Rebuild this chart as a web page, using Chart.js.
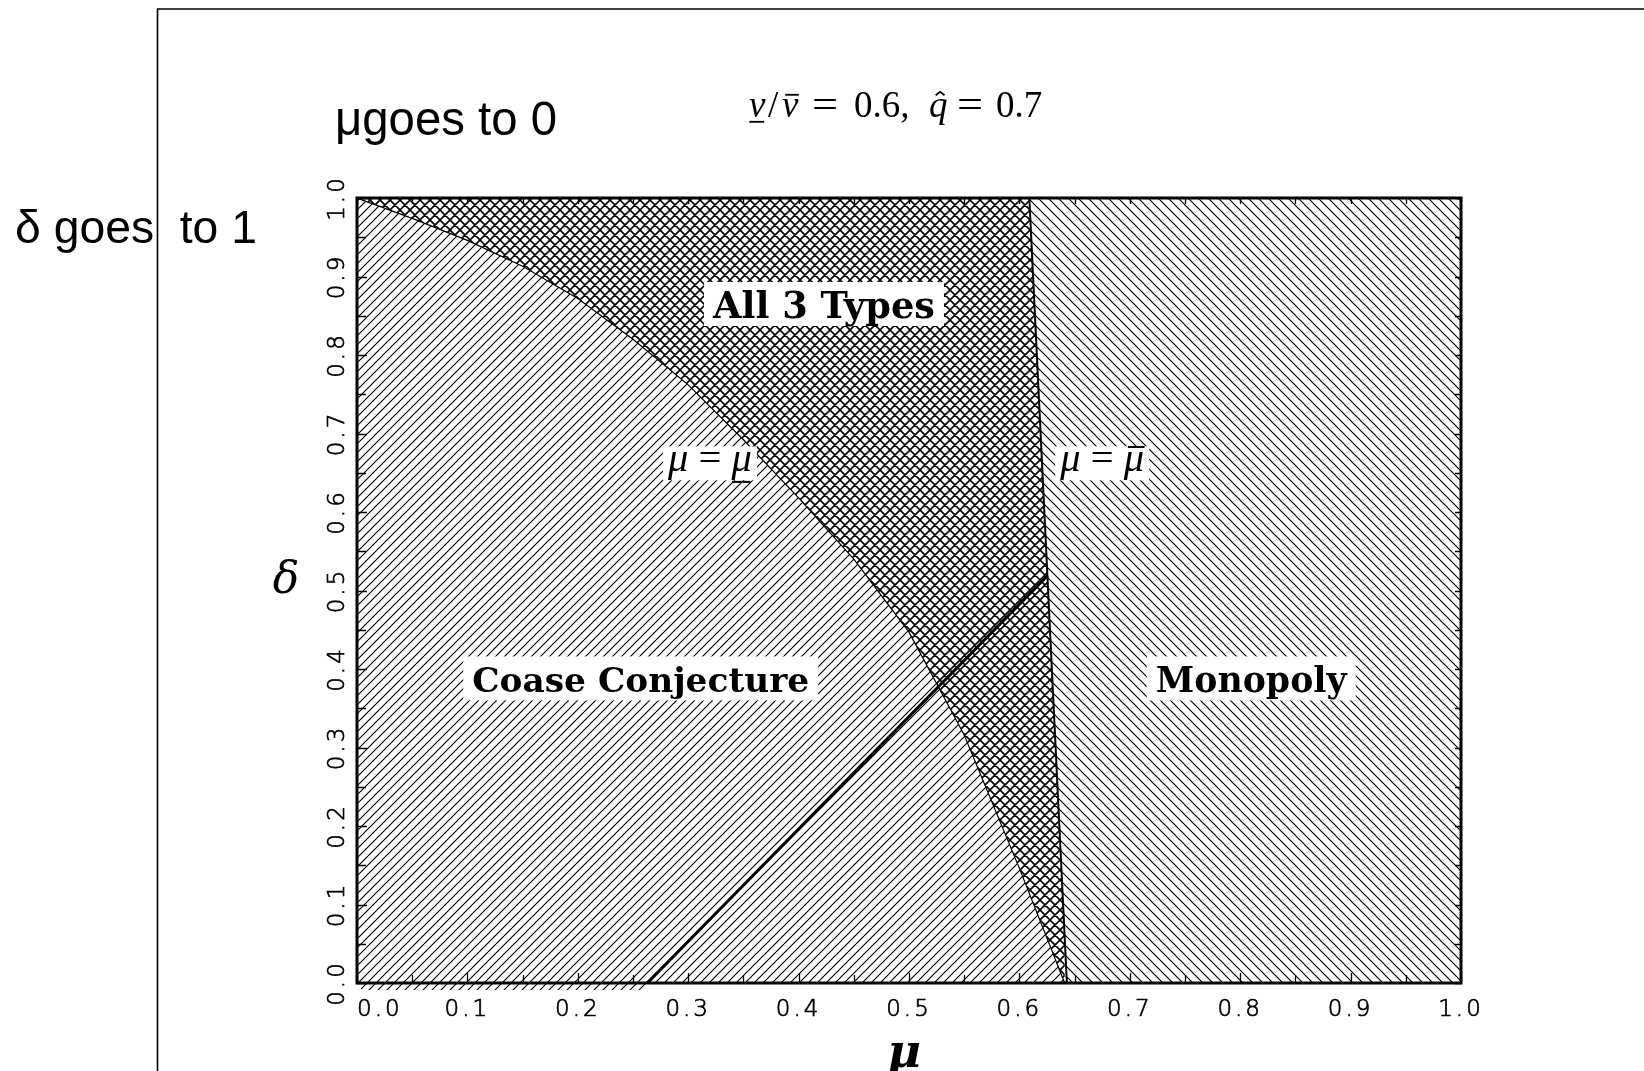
<!DOCTYPE html>
<html><head><meta charset="utf-8">
<script src="https://cdn.jsdelivr.net/npm/chart.js@4.4.0/dist/chart.umd.min.js"></script>
<style>html,body{margin:0;padding:0;background:#fff;overflow:hidden}canvas{display:block}</style>
</head><body>
<canvas id="c" width="1644" height="1071"></canvas>
<script>
// ---------------- data ----------------
const X_TICK_LABELS = ['0.0','0.1','0.2','0.3','0.4','0.5','0.6','0.7','0.8','0.9','1.0'];
const Y_TICK_LABELS = ['0.0','0.1','0.2','0.3','0.4','0.5','0.6','0.7','0.8','0.9','1.0'];
// boundary mu = mu_lower (Coase | All 3 Types)
const lowerBoundMu    = [0, 0.05, 0.10, 0.15, 0.20, 0.25, 0.30, 0.35, 0.40, 0.45, 0.50, 0.55, 0.60, 0.641];
const lowerBoundDelta = [1, 0.974, 0.946, 0.913, 0.872, 0.820, 0.762, 0.692, 0.618, 0.540, 0.447, 0.316, 0.146, 0];
// boundary mu = mu_bar (All 3 Types | Monopoly)
const upperBoundMu    = [0.609, 0.643];
const upperBoundDelta = [1, 0];
// solid diagonal line
const diagMu    = [0.263, 0.6255];
const diagDelta = [0, 0.519];
const REGION_NAMES = ['All 3 Types', 'Coase Conjecture', 'Monopoly'];
const REGION_AT = [[0.423, 0.865], [0.257, 0.388], [0.810, 0.388]];
const BOUND_AT = [[0.3197, 0.662], [0.675, 0.662]];

// ---------------- styles ----------------
const SERIF = '"DejaVu Serif", "Liberation Serif", serif';
const LSERIF = '"Liberation Serif", "Times New Roman", serif';
const SANS = '"Liberation Sans", Arial, sans-serif';
const TICKF = '"DejaVu Sans", sans-serif';
const PAD0 = '\u2007\u2008\u2007';

function makePattern(dirs, size, lw) {
  const c = document.createElement('canvas');
  c.width = size; c.height = size;
  const g = c.getContext('2d');
  g.fillStyle = '#fff'; g.fillRect(0, 0, size, size);
  g.strokeStyle = '#000'; g.lineWidth = lw;
  g.beginPath();
  for (const k of [-size, 0, size]) {
    if (dirs.includes('/')) { g.moveTo(k - 1, size + 1); g.lineTo(k + size + 1, -1); }
    if (dirs.includes('\\')) { g.moveTo(k - 1, -1); g.lineTo(k + size + 1, size + 1); }
  }
  g.stroke();
  return g.createPattern(c, 'repeat');
}
const cv = document.getElementById('c');
const ctx0 = cv.getContext('2d');
const coasePat = makePattern('/', 9, 1.15);
const monoPat = makePattern('\\', 10, 1.15);
const crossPat = makePattern('/\\', 10, 1.6);

const toPts = (xs, ys) => xs.map((x, i) => ({x, y: ys[i]}));

function decorate(ctx, p, x, w, baseline, size) {
  ctx.save(); ctx.strokeStyle = '#000'; ctx.lineWidth = Math.max(1.3, size * 0.05); ctx.beginPath();
  if (p.deco === 'under') { const y = baseline + p.dy * size; ctx.moveTo(x + 0.02 * w, y); ctx.lineTo(x + 0.92 * w, y); }
  if (p.deco === 'over') { const y = baseline - p.dy * size; ctx.moveTo(x + 0.2 * w, y); ctx.lineTo(x + 1.02 * w, y); }
  if (p.deco === 'hat') { const y = baseline - p.dy * size; const mx = x + w * 0.6;
    ctx.moveTo(mx - 0.12 * size, y + 0.09 * size); ctx.lineTo(mx, y); ctx.lineTo(mx + 0.12 * size, y + 0.09 * size); }
  ctx.stroke(); ctx.restore();
}
function richWidth(ctx, parts, size) {
  let w = 0;
  for (const p of parts) { ctx.font = p.f(size); w += ctx.measureText(p.t).width; }
  return w;
}
function drawRich(ctx, parts, cx, baseline, size) {
  const total = richWidth(ctx, parts, size);
  let x = cx - total / 2;
  ctx.textAlign = 'left'; ctx.textBaseline = 'alphabetic'; ctx.fillStyle = '#000';
  for (const p of parts) {
    ctx.font = p.f(size);
    const w = ctx.measureText(p.t).width;
    ctx.fillText(p.t, x, baseline);
    if (p.deco) decorate(ctx, p, x, w, baseline, size);
    x += w;
  }
}
function fitSize(ctx, parts, target) { return 100 * target / richWidth(ctx, parts, 100); }

const bd = s => `bold ${s}px ${SERIF}`;
const lit = s => `italic ${s}px ${LSERIF}`;
const lrm = s => `${s}px ${LSERIF}`;
const sans = s => `${s}px ${SANS}`;

const decor = {
  id: 'decor',
  beforeDraw(chart) {
    const c = chart.ctx;
    c.save(); c.fillStyle = '#fff'; c.fillRect(0, 0, chart.width, chart.height); c.restore();
    c.letterSpacing = '3px';
  },
  beforeDatasetsDraw(chart) { chart.ctx.letterSpacing = '0px'; },
  afterDatasetsDraw(chart) {
    const c = chart.ctx, xs = chart.scales.x, ys = chart.scales.y;
    c.save();
    c.letterSpacing = '0px';
    REGION_NAMES.forEach((name, i) => {
      const cx = xs.getPixelForValue(REGION_AT[i][0]);
      const cy = ys.getPixelForValue(REGION_AT[i][1]);
      const parts = [{t: name, f: bd}];
      const targetW = [222, 337, 191][i];
      const size = fitSize(c, parts, targetW);
      const w = richWidth(c, parts, size);
      c.fillStyle = '#fff';
      c.fillRect(cx - w / 2 - 9, cy - 22, w + 18, 44);
      c.font = bd(size);
      const capA = c.measureText('H').actualBoundingBoxAscent;
      drawRich(c, parts, cx, cy + capA / 2 + 1, size);
    });
    const bl = [
      [{t: 'μ', f: lit}, {t: ' = ', f: lrm}, {t: 'μ', f: lit, deco: 'under', dy: 0.26}],
      [{t: 'μ', f: lit}, {t: ' = ', f: lrm}, {t: 'μ', f: lit, deco: 'over', dy: 0.6}]
    ];
    bl.forEach((parts, i) => {
      const cx = xs.getPixelForValue(BOUND_AT[i][0]);
      const cy = ys.getPixelForValue(BOUND_AT[i][1]);
      const size = fitSize(c, parts, 84);
      const w = richWidth(c, parts, size);
      c.fillStyle = '#fff';
      c.fillRect(cx - w / 2 - 5, cy - 17, w + 10, 34);
      drawRich(c, parts, cx, cy + 8, size);
    });
    c.restore();
  },
  afterDraw(chart) {
    const c = chart.ctx, a = chart.chartArea, xs = chart.scales.x, ys = chart.scales.y;
    c.save();
    c.letterSpacing = '0px';
    // hatch strip below the axis, up to the diagonal line's foot
    c.fillStyle = coasePat;
    const x0 = xs.getPixelForValue(0), x1 = xs.getPixelForValue(diagMu[0]);
    c.fillRect(x0 + 4, a.bottom + 1, x1 - x0 - 4, 6);
    // frame
    c.strokeStyle = '#000'; c.lineWidth = 3;
    c.strokeRect(a.left, a.top, a.right - a.left, a.bottom - a.top);
    // inward ticks
    c.lineWidth = 1.3;
    const tickVals = s => {
      const v = s.ticks.map(t => t.value), out = [];
      v.forEach((t, i) => { out.push([t, true]); if (i < v.length - 1) out.push([(t + v[i + 1]) / 2, false]); });
      return out;
    };
    c.beginPath();
    for (const [v, major] of tickVals(xs)) {
      const px = Math.round(xs.getPixelForValue(v)) + 0.5;
      c.moveTo(px, a.bottom); c.lineTo(px, a.bottom - (major ? 10 : 8));
      c.moveTo(px, a.top); c.lineTo(px, a.top + 6);
    }
    for (const [v, major] of tickVals(ys)) {
      const py = Math.round(ys.getPixelForValue(v)) + 0.5;
      c.moveTo(a.left, py); c.lineTo(a.left + (major ? 10 : 9), py);
      c.moveTo(a.right, py); c.lineTo(a.right - 6, py);
    }
    c.stroke();
    // axis titles
    c.fillStyle = '#000'; c.textAlign = 'center'; c.textBaseline = 'alphabetic';
    c.font = `italic 44px ${SERIF}`;
    c.fillText('δ', a.left - 71, (a.top + a.bottom) / 2 + 2);
    c.font = `bold italic 46px ${SERIF}`;
    c.fillText('μ', (a.left + a.right) / 2 - 5, a.bottom + 84);
    // heading math text, piece by piece
    const HS = 37, HB = 117;
    const head = [
      {t: 'v', f: lit, x: 749, deco: 'under', dy: 0.13},
      {t: '/', f: lrm, x: 768},
      {t: 'v', f: lit, x: 782, deco: 'over', dy: 0.6},
      {t: '=', f: lrm, x: 812, sx: 1.25},
      {t: '0.6,', f: lrm, x: 854},
      {t: 'q', f: lit, x: 929, deco: 'hat', dy: 0.68},
      {t: '=', f: lrm, x: 957, sx: 1.25},
      {t: '0.7', f: lrm, x: 996}
    ];
    c.textAlign = 'left';
    for (const p of head) {
      c.font = p.f(HS);
      const w = c.measureText(p.t).width;
      if (p.sx) { c.save(); c.translate(p.x, HB); c.scale(p.sx, 1); c.fillText(p.t, 0, 0); c.restore(); }
      else c.fillText(p.t, p.x, HB);
      if (p.deco) decorate(c, p, p.x, w, HB, HS);
    }
    // side notes
    const n1 = [{t: 'μgoes to 0', f: sans}];
    c.font = sans(fitSize(c, n1, 222)); c.fillText('μgoes to 0', 335, 135);
    const n2 = [{t: 'δ goes  to 1', f: sans}];
    c.font = sans(fitSize(c, n2, 242)); c.fillText('δ goes  to 1', 15, 243);
    // outer frame lines
    c.lineWidth = 1.6; c.beginPath();
    c.moveTo(157.5, 9); c.lineTo(157.5, chart.height);
    c.moveTo(157, 9); c.lineTo(chart.width, 9);
    c.stroke();
    c.restore();
  }
};

const tickFont = {family: TICKF, size: 23, weight: 200};
new Chart(ctx0, {
  type: 'line',
  data: {
    datasets: [
      {label: 'diag', data: toPts(diagMu, diagDelta), borderColor: '#000', borderWidth: 3, pointRadius: 0, fill: false, order: 0},
      {label: 'lower', data: toPts(lowerBoundMu, lowerBoundDelta), borderColor: '#000', borderWidth: 1.2, pointRadius: 0, fill: 'start', backgroundColor: coasePat, order: 3},
      {label: 'all3', data: toPts([0, ...upperBoundMu], [1, ...upperBoundDelta]), borderColor: 'rgba(0,0,0,0)', borderWidth: 0, pointRadius: 0, fill: 1, backgroundColor: crossPat, order: 4},
      {label: 'mono', data: toPts([...upperBoundMu, 1], [...upperBoundDelta, 0]), borderColor: 'rgba(0,0,0,0)', borderWidth: 0, pointRadius: 0, fill: 'end', backgroundColor: monoPat, order: 2},
      {label: 'mubar', data: toPts(upperBoundMu, upperBoundDelta), borderColor: '#000', borderWidth: 2, pointRadius: 0, fill: false, order: 1}
    ]
  },
  options: {
    responsive: false, animation: false, devicePixelRatio: 1, events: [],
    layout: {padding: {left: 0, top: 198, right: 183, bottom: 0}},
    plugins: {legend: {display: false}, tooltip: {enabled: false}, title: {display: false}},
    elements: {line: {tension: 0}},
    scales: {
      x: {
        type: 'linear', min: 0, max: 1,
        afterFit: s => { s.height = 88; },
        grid: {display: false, drawTicks: false}, border: {display: false},
        ticks: {stepSize: 0.1, padding: 13, color: '#000', textStrokeColor: '#000', textStrokeWidth: 0.7, font: tickFont, autoSkip: false, maxRotation: 0, minRotation: 0,
          callback: (v, i) => i === 0 ? PAD0 + X_TICK_LABELS[i] : X_TICK_LABELS[i]}
      },
      y: {
        type: 'linear', min: 0, max: 1,
        afterFit: s => { s.width = 357; },
        grid: {display: false, drawTicks: false}, border: {display: false},
        ticks: {stepSize: 0.1, padding: 1, color: '#000', textStrokeColor: '#000', textStrokeWidth: 0.7, font: tickFont, autoSkip: false, minRotation: 90, maxRotation: 90, crossAlign: 'center',
          callback: (v, i) => Y_TICK_LABELS[i]}
      }
    }
  },
  plugins: [decor]
});
</script>
</body></html>
